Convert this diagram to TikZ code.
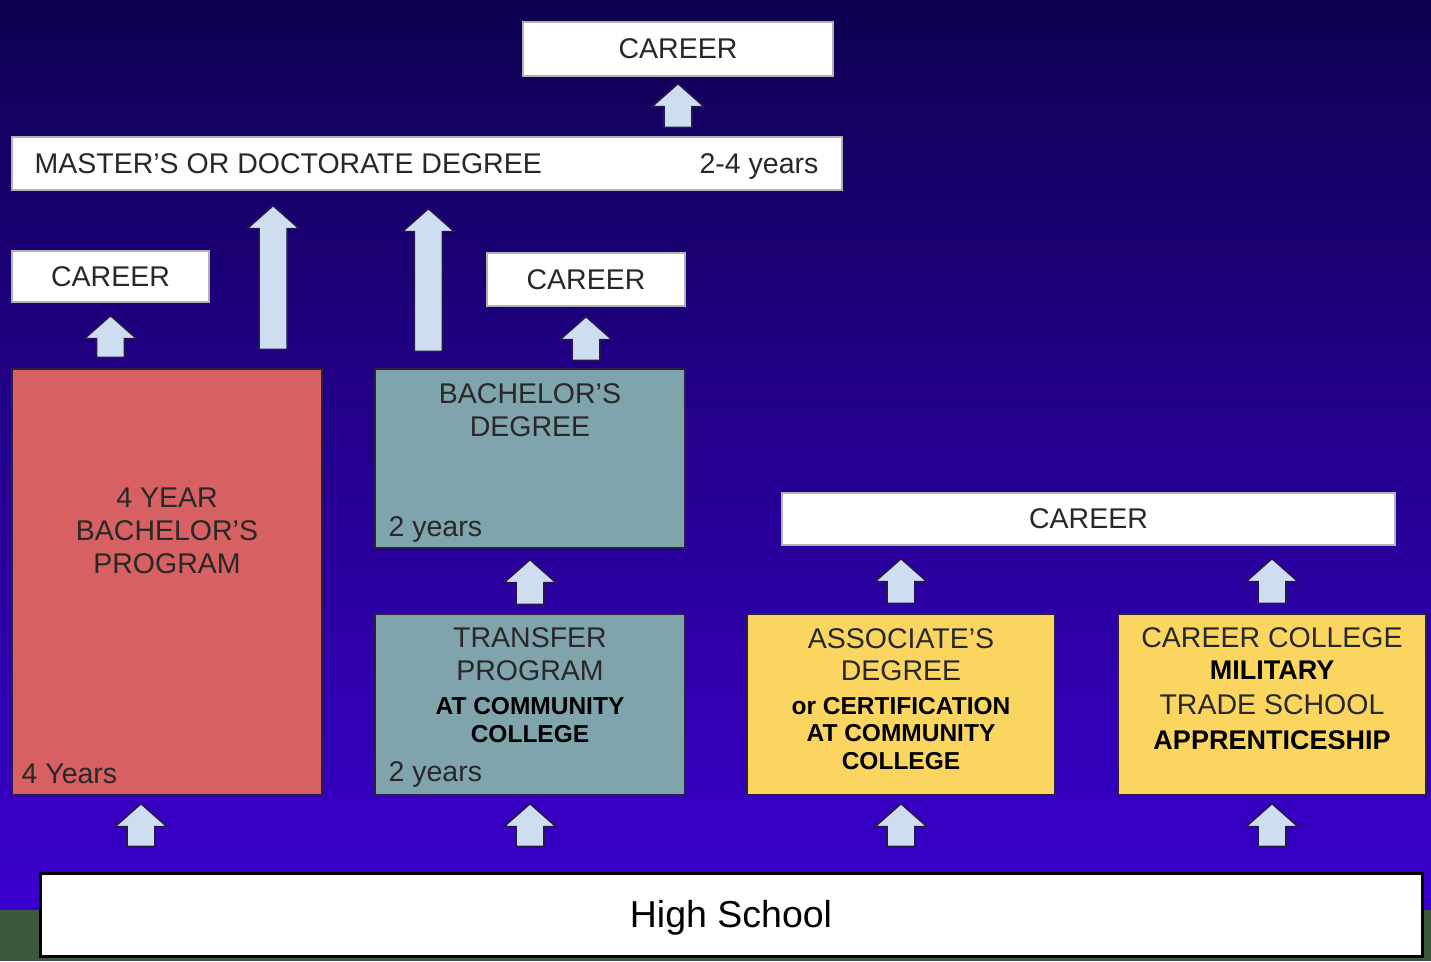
\documentclass[tikz,border=0pt]{standalone}
\usepackage{fontspec}
\setmainfont{Liberation Sans}
\usetikzlibrary{calc}

\definecolor{bgtop}{RGB}{14,0,80}
\definecolor{bgmid}{RGB}{30,0,140}
\definecolor{bgbot}{RGB}{58,0,206}
\definecolor{grass}{RGB}{62,88,62}
\definecolor{redfill}{RGB}{214,96,98}
\definecolor{tealfill}{RGB}{128,164,172}
\definecolor{yellowfill}{RGB}{250,214,96}
\definecolor{arrowfill}{RGB}{206,221,240}
\definecolor{arrowline}{RGB}{40,22,80}
\definecolor{boxline}{RGB}{45,30,70}
\definecolor{textgray}{RGB}{40,40,40}

\tikzset{
  box/.style={rectangle, draw=boxline, line width=1.2pt, inner sep=0pt},
  whitebox/.style={box, fill=white, draw=gray!60, text=textgray,
    font=\fontsize{28.5}{33}\selectfont},
  reg/.style={inner sep=0pt, text=textgray, align=center,
    font=\fontsize{28.5}{33}\selectfont},
  bld/.style={inner sep=0pt, text=black, align=center,
    font=\bfseries\fontsize{24.5}{28}\selectfont},
  uparr/.style={fill=arrowfill, draw=arrowline, line width=1.6pt,
    to path={
      ($(\tikztostart)+(-14,0)$) -- ($(\tikztostart |- \tikztotarget)+(-14,23)$)
      -- ($(\tikztostart |- \tikztotarget)+(-26,23)$) -- (\tikztostart |- \tikztotarget)
      -- ($(\tikztostart |- \tikztotarget)+(26,23)$) -- ($(\tikztostart |- \tikztotarget)+(14,23)$)
      -- ($(\tikztostart)+(14,0)$) -- cycle}}
}

\begin{document}
\begin{tikzpicture}[x=1pt, y=-1pt]
\useasboundingbox (0,0) rectangle (1431,961);
\shade[top color=bgtop, middle color=bgmid, bottom color=bgbot] (0,0) rectangle (1431,910);
\fill[grass] (0,910) rectangle (1431,961);

% top row
\node[whitebox, minimum width=310pt, minimum height=54pt] (ctop) at (678,49) {CAREER};
\node[whitebox, minimum width=830pt, minimum height=53pt] (master) at (427,163.5) {};
\node[reg, anchor=base west] (mtext) at ($(master.west)+(23,10)$) {MASTER’S OR DOCTORATE DEGREE};
\node[reg, anchor=base east] (myears) at ($(master.east)+(-24,10)$) {2-4 years};
\node[whitebox, minimum width=197pt, minimum height=51pt] (cl) at (110.5,276.5) {CAREER};
\node[whitebox, minimum width=198pt, minimum height=53pt] (cm) at (586,279.5) {CAREER};

% four year program
\node[box, fill=redfill, minimum width=310pt, minimum height=426pt] (red) at (167,582) {};
\node[reg, anchor=north] (redtxt) at ($(red.north)+(0,119.5)$) {4 YEAR\\BACHELOR’S\\PROGRAM};
\node[reg, anchor=base west] (redyrs) at ($(red.south west)+(10,-12)$) {4 Years};

% transfer path
\node[box, fill=tealfill, minimum width=310pt, minimum height=179pt] (bach) at (530,458.5) {};
\node[reg, anchor=north] (bachtxt) at ($(bach.north)+(0,14.5)$) {BACHELOR’S\\DEGREE};
\node[reg, anchor=base west] (bachyrs) at ($(bach.south west)+(14,-12)$) {2 years};
\node[box, fill=tealfill, minimum width=310pt, minimum height=181pt] (transfer) at (530,704.5) {};
\node[reg, anchor=north] (trtxt) at ($(transfer.north)+(0,13.5)$) {TRANSFER\\PROGRAM};
\node[bld, anchor=north] (trbold) at ($(transfer.north)+(0,84)$) {AT COMMUNITY\\COLLEGE};
\node[reg, anchor=base west] (tryrs) at ($(transfer.south west)+(14,-14)$) {2 years};

% two year paths
\node[whitebox, minimum width=613pt, minimum height=52pt] (cr) at (1088.5,519) {CAREER};
\node[box, fill=yellowfill, minimum width=308pt, minimum height=181pt] (assoc) at (901,704.5) {};
\node[reg, anchor=north, font=\fontsize{28.5}{31.5}\selectfont] (astxt) at ($(assoc.north)+(0,15)$) {ASSOCIATE’S\\DEGREE};
\node[bld, anchor=north, font=\bfseries\fontsize{24.5}{27.5}\selectfont] (asbold) at ($(assoc.north)+(0,83.5)$) {or CERTIFICATION\\AT COMMUNITY\\COLLEGE};
\node[box, fill=yellowfill, minimum width=308pt, minimum height=181pt] (trade) at (1272,704.5) {};
\node[reg, anchor=base] (tdone) at ($(trade.north)+(0,34.5)$) {CAREER COLLEGE};
\node[bld, anchor=base, font=\bfseries\fontsize{27}{30}\selectfont] (tdtwo) at ($(trade.north)+(0,66)$) {MILITARY};
\node[reg, anchor=base] (tdthree) at ($(trade.north)+(0,101)$) {TRADE SCHOOL};
\node[bld, anchor=base, font=\bfseries\fontsize{27}{30}\selectfont] (tdfour) at ($(trade.north)+(0,136)$) {APPRENTICESHIP};

% high school
\node[rectangle, fill=white, draw=black, line width=3pt, minimum width=1382pt, minimum height=83pt] (hs) at (731,914.5) {};
\node[inner sep=0pt, anchor=base, font=\fontsize{37.5}{42}\selectfont] (hstxt) at ($(hs.center)+(0,12.5)$) {High School};

% arrows
\path[uparr] ($(master.north -| ctop.south)+(0,-9)$) to ($(ctop.south)+(0,7)$);
\path[uparr] ($(red.north -| cl.south)+(0,-11)$) to ($(cl.south)+(0,13)$);
\path[uparr] ($(red.north east)+(-49.5,-19)$) to ($(master.south -| red.north east)+(-49.5,15)$);
\path[uparr] ($(bach.north west)+(54,-17)$) to ($(master.south -| bach.north west)+(54,18)$);
\path[uparr] ($(bach.north -| cm.south)+(0,-8)$) to ($(cm.south)+(0,10)$);
\path[uparr] ($(transfer.north)+(0,-9)$) to ($(bach.south)+(0,11)$);
\path[uparr] ($(assoc.north)+(0,-10)$) to ($(cr.south -| assoc.north)+(0,13)$);
\path[uparr] ($(trade.north)+(0,-10)$) to ($(cr.south -| trade.north)+(0,13)$);
\path[uparr] ($(hs.north -| red.south)+(-26,-25)$) to ($(red.south)+(-26,8)$);
\path[uparr] ($(hs.north -| transfer.south)+(0,-25)$) to ($(transfer.south)+(0,8)$);
\path[uparr] ($(hs.north -| assoc.south)+(0,-25)$) to ($(assoc.south)+(0,8)$);
\path[uparr] ($(hs.north -| trade.south)+(0,-25)$) to ($(trade.south)+(0,8)$);
\end{tikzpicture}
\end{document}
